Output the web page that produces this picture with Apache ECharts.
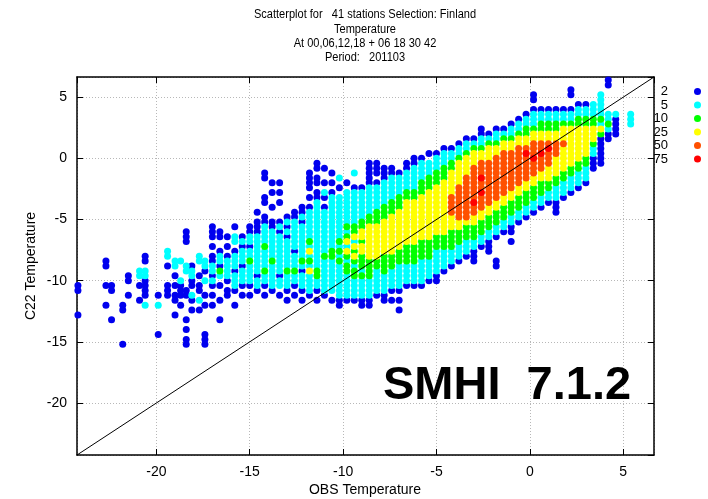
<!DOCTYPE html>
<html>
<head>
<meta charset="utf-8">
<script src="https://cdn.jsdelivr.net/npm/echarts@6/dist/echarts.min.js"></script>
<style>
html,body{margin:0;padding:0;background:#fff;}
#chart{width:708px;height:499px;}
</style>
</head>
<body>
<div id="chart"></div>
<script>
// Axis range (same for OBS and C22, diagonal is y = x)
const axisMin = -24.25;
const axisMax = 6.65;

// Title lines
const titleLines = [
  'Scatterplot for   41 stations Selection: Finland',
  'Temperature',
  'At 00,06,12,18 + 06 18 30 42',
  'Period:   201103'
];
const xAxisTitle = 'OBS Temperature';
const yAxisTitle = 'C22 Temperature';
const stampText = 'SMHI  7.1.2';

// Density classes (legend labels)
const classLabels = ['2', '5', '10', '25', '50', '75'];
const classColors = ['#0000ee', '#00ffff', '#00ff00', '#ffff00', '#ff5000', '#ff0000'];

// Points, stored per column: [obsX, c22Y, c22Y, ...]
const blueCols = [
  [-24.2, -10.4, -10.8, -12.8],
  [-22.7, -8.4, -8.8, -10.4, -12.0],
  [-22.4, -10.4, -10.8, -13.2],
  [-21.8, -12.0, -12.4, -15.2],
  [-21.5, -9.6, -10.0, -11.2],
  [-20.9, -10.4, -11.6],
  [-20.6, -8.0, -8.4, -10.0, -10.4, -10.8, -11.2],
  [-19.9, -11.2, -14.4],
  [-19.4, -8.8, -10.4, -10.8, -11.2],
  [-19.0, -9.6, -10.4, -11.2, -11.6, -12.8],
  [-18.7, -10.4, -10.8, -11.2, -12.0],
  [-18.4, -6.0, -6.4, -6.8, -10.8, -11.2, -13.2, -14.0, -14.8, -15.2],
  [-18.1, -8.8, -10.0, -10.4, -11.6, -12.4],
  [-17.7, -9.6, -10.4, -10.8, -12.4],
  [-17.4, -9.2, -11.2, -12.0, -14.4, -14.8, -15.2],
  [-17.0, -5.6, -6.0, -6.4, -7.2, -8.0, -8.4, -9.6, -10.4, -11.2, -12.0],
  [-16.6, -6.0, -6.4, -7.6, -8.8, -10.4, -11.6, -13.2],
  [-16.2, -6.4, -7.2, -8.0, -10.0, -10.8, -11.2],
  [-15.8, -5.6, -7.6, -9.2, -10.8, -12.0],
  [-15.4, -6.4, -7.2, -8.8, -10.4, -11.2],
  [-15.0, -5.6, -6.0, -7.2, -10.4, -11.2],
  [-14.6, -4.4, -5.2, -5.6, -6.0, -9.6, -10.8],
  [-14.2, -1.2, -1.6, -3.2, -3.6, -4.8, -5.2, -10.4, -11.2],
  [-13.8, -2.0, -2.8, -4.0, -5.2, -5.6, -10.8],
  [-13.4, -2.0, -2.8, -3.6, -5.2, -6.0, -9.6, -11.2],
  [-13.0, -4.8, -5.6, -6.4, -10.8, -11.6],
  [-12.6, -4.4, -4.8, -7.6, -10.4, -11.2],
  [-12.2, -4.0, -4.4, -5.2, -9.2, -10.8, -11.6],
  [-11.8, -1.2, -1.6, -2.0, -2.4, -3.2, -4.0, -11.2],
  [-11.4, -0.4, -0.8, -1.6, -2.0, -2.8, -3.2, -10.8, -11.6],
  [-11.0, -0.8, -2.0, -3.2, -4.0, -11.2],
  [-10.6, -1.2, -2.0, -2.8, -11.6],
  [-10.2, -2.4, -11.6, -12.0],
  [-9.8, -2.0, -11.6],
  [-9.4, -2.4, -11.6],
  [-9.0, -2.4, -11.6, -12.0],
  [-8.6, -0.4, -0.8, -1.2, -1.6, -2.0, -11.6, -12.0],
  [-8.2, -0.4, -0.8, -1.2, -2.0, -11.2],
  [-7.8, -0.8, -1.2, -1.6, -11.2, -11.6],
  [-7.4, -0.8, -1.2, -10.8, -11.6],
  [-7.0, -1.2, -10.8, -11.6, -12.4],
  [-6.6, -0.4, -0.8, -10.4],
  [-6.2, 0.0, -0.4, -10.4],
  [-5.8, 0.0, -10.4],
  [-5.4, 0.4, -10.0],
  [-5.0, 0.4, -9.6, -10.0],
  [-4.6, 0.8, -9.2],
  [-4.2, 0.8, -8.8],
  [-3.8, 1.2, -8.4],
  [-3.4, 1.6, -8.0],
  [-3.0, 1.6, -7.6, -8.0, -8.4],
  [-2.6, 2.0, 2.4, -7.2],
  [-2.2, 2.0, -6.8, -7.2, -7.6],
  [-1.8, 2.4, -6.4, -8.4, -8.8],
  [-1.4, 2.4, -6.0],
  [-1.0, 2.8, -5.6, -6.0, -6.8],
  [-0.6, 3.2, -5.2],
  [-0.2, 3.6, -4.8],
  [0.2, 4.0, 4.8, 5.2, -4.4],
  [0.6, 4.0, -4.0],
  [1.0, 4.0, -3.6],
  [1.4, 4.0, -3.6, -4.0, -4.4],
  [1.8, 4.0, -3.2],
  [2.2, 4.0, 5.2, 5.6, -2.8],
  [2.6, 4.4, -2.4],
  [3.0, 4.4, -2.0],
  [3.4, 0.0, -0.4, -0.8],
  [3.8, 1.6, 1.2, 0.8, 0.4, 0.0, -0.4],
  [4.2, 6.4, 6.0, 2.0, 1.6],
  [4.6, 3.2, 2.8, 2.4, 2.0]
];

const cyanCols = [
  [-20.9, -9.2, -9.6],
  [-20.6, -9.2, -9.6, -12.0],
  [-19.9, -12.0],
  [-19.4, -7.6, -8.0],
  [-19.0, -8.4, -8.8],
  [-18.7, -8.4, -10.0],
  [-18.4, -8.8, -9.2],
  [-18.1, -9.2, -9.6, -11.2],
  [-17.7, -8.0, -8.4, -11.6],
  [-17.4, -8.4, -8.8, -10.0],
  [-17.0, -8.8, -9.2, -10.0],
  [-16.6, -8.0, -8.4, -9.6],
  [-16.2, -8.4, -8.8, -9.2, -9.6],
  [-15.8, -6.4, -6.8, -8.0, -8.4, -8.8, -9.6, -10.0, -10.4],
  [-15.4, -6.8, -7.6, -8.0, -8.4, -9.2, -9.6, -10.0],
  [-15.0, -6.4, -6.8, -7.6, -8.0, -8.8, -9.2, -9.6, -10.0],
  [-14.6, -6.4, -6.8, -7.2, -7.6, -8.0, -8.4, -8.8, -9.2, -10.0, -10.4],
  [-14.2, -5.6, -6.0, -6.4, -6.8, -7.6, -8.0, -8.4, -8.8, -9.6, -10.0],
  [-13.8, -6.0, -6.4, -6.8, -7.2, -7.6, -8.0, -8.8, -9.2, -9.6, -10.0, -10.4],
  [-13.4, -5.6, -6.4, -6.8, -7.2, -7.6, -8.0, -8.4, -8.8, -9.2, -10.0, -10.4],
  [-13.0, -5.2, -6.0, -6.8, -7.2, -7.6, -8.0, -8.4, -8.8, -9.6, -10.0, -10.4],
  [-12.6, -5.2, -5.6, -6.0, -6.4, -6.8, -7.2, -8.0, -8.4, -8.8, -9.6, -10.0],
  [-12.2, -4.8, -5.6, -6.0, -6.4, -6.8, -7.2, -7.6, -8.0, -8.8, -9.6, -10.0, -10.4],
  [-11.8, -4.4, -4.8, -5.2, -5.6, -6.0, -6.4, -7.2, -8.0, -8.8, -9.6, -10.0, -10.4, -10.8],
  [-11.4, -3.6, -4.0, -4.4, -4.8, -5.2, -5.6, -6.0, -6.4, -6.8, -7.2, -7.6, -8.0, -8.4, -8.8, -10.0, -10.4],
  [-11.0, -2.8, -4.4, -4.8, -5.2, -5.6, -6.0, -6.4, -6.8, -7.2, -7.6, -8.4, -8.8, -9.2, -9.6, -10.0, -10.4, -10.8],
  [-10.6, -3.2, -3.6, -4.0, -4.4, -4.8, -5.2, -5.6, -6.0, -6.4, -6.8, -7.2, -8.4, -8.8, -9.2, -9.6, -10.0, -10.4, -10.8],
  [-10.2, -1.6, -3.2, -3.6, -4.0, -4.4, -4.8, -5.2, -5.6, -6.0, -6.4, -7.2, -8.0, -8.8, -9.2, -9.6, -10.0, -10.4, -10.8, -11.2],
  [-9.8, -2.8, -3.2, -3.6, -4.0, -4.4, -4.8, -5.2, -6.0, -7.2, -8.4, -9.6, -10.0, -10.4, -10.8, -11.2],
  [-9.4, -1.2, -2.8, -3.2, -3.6, -4.0, -4.4, -4.8, -5.2, -6.8, -8.8, -10.0, -10.4, -10.8, -11.2],
  [-9.0, -2.8, -3.2, -3.6, -4.0, -4.4, -4.8, -9.2, -10.0, -10.4, -10.8, -11.2],
  [-8.6, -2.4, -2.8, -3.2, -3.6, -4.0, -4.4, -10.0, -10.4, -10.8, -11.2],
  [-8.2, -2.4, -2.8, -3.2, -3.6, -4.0, -9.2, -9.6, -10.0, -10.4, -10.8],
  [-7.8, -2.0, -2.4, -2.8, -3.2, -3.6, -9.6, -10.0, -10.4, -10.8],
  [-7.4, -1.6, -2.0, -2.4, -2.8, -3.2, -9.2, -9.6, -10.0, -10.4],
  [-7.0, -1.6, -2.0, -2.4, -2.8, -8.8, -9.2, -9.6, -10.0, -10.4],
  [-6.6, -1.2, -1.6, -2.0, -2.4, -8.8, -9.2, -9.6, -10.0],
  [-6.2, -0.8, -1.2, -1.6, -2.0, -2.4, -8.8, -9.2, -9.6, -10.0],
  [-5.8, -0.4, -0.8, -1.2, -1.6, -8.4, -8.8, -9.2, -9.6, -10.0],
  [-5.4, -0.4, -0.8, -1.2, -8.4, -8.8, -9.2, -9.6],
  [-5.0, 0.0, -0.4, -0.8, -7.6, -8.0, -8.4, -8.8, -9.2],
  [-4.6, 0.4, 0.0, -0.4, -7.6, -8.0, -8.4, -8.8],
  [-4.2, 0.4, 0.0, -7.6, -8.0, -8.4],
  [-3.8, 0.8, 0.4, -7.2, -7.6, -8.0],
  [-3.4, 1.2, 0.8, -6.8, -7.2, -7.6],
  [-3.0, 1.2, -6.8, -7.2],
  [-2.6, 1.6, 1.2, -6.4, -6.8],
  [-2.2, 1.6, -6.0, -6.4],
  [-1.8, 2.0, 1.6, -5.6, -6.0],
  [-1.4, 2.0, -5.2, -5.6],
  [-1.0, 2.4, 2.0, -4.8, -5.2],
  [-0.6, 2.8, 2.4, -4.4, -4.8],
  [-0.2, 3.2, 2.8, -4.0, -4.4],
  [0.2, 3.6, 3.2, 2.8, -3.6, -4.0],
  [0.6, 3.6, 3.2, -3.2, -3.6],
  [1.0, 3.6, 3.2, -2.8, -3.2],
  [1.4, 3.6, 3.2, -2.4, -2.8, -3.2],
  [1.8, 3.6, 3.2, -2.0, -2.4, -2.8],
  [2.2, 3.6, 3.2, -1.6, -2.0, -2.4],
  [2.6, 4.0, 3.6, -1.2, -1.6, -2.0],
  [3.0, 4.0, 3.6, -0.8, -1.2, -1.6],
  [3.4, 4.4, 4.0, 3.6, 0.8, 0.4],
  [3.8, 5.2, 4.8, 4.4, 4.0, 3.6, 2.8],
  [4.2, 3.6, 3.2, 2.4],
  [4.6, 3.6],
  [5.4, 3.6, 3.2, 2.8]
];

const greenCols = [
  [-16.6, -9.2],
  [-15.0, -8.4],
  [-14.2, -7.2, -9.2],
  [-13.8, -8.4],
  [-13.0, -9.2],
  [-12.6, -9.2],
  [-12.2, -8.4],
  [-11.8, -6.8, -8.4],
  [-11.4, -9.2, -9.6],
  [-11.0, -8.0],
  [-10.6, -7.6, -8.0],
  [-10.2, -6.8, -7.6, -8.4],
  [-9.8, -5.6, -6.4, -8.0, -8.8, -9.2],
  [-9.4, -5.6, -6.0, -7.6, -8.4, -9.2, -9.6],
  [-9.0, -5.2, -5.6, -6.8, -8.0, -8.4, -8.8, -9.6],
  [-8.6, -4.8, -5.2, -8.4, -8.8, -9.2, -9.6],
  [-8.2, -4.4, -4.8, -5.2, -8.4, -8.8],
  [-7.8, -4.0, -4.4, -4.8, -8.0, -8.4, -8.8, -9.2],
  [-7.4, -3.6, -4.0, -4.4, -8.0, -8.4, -8.8],
  [-7.0, -3.2, -3.6, -4.0, -7.6, -8.0, -8.4],
  [-6.6, -2.8, -3.2, -7.2, -7.6, -8.0, -8.4],
  [-6.2, -2.8, -3.2, -7.2, -7.6, -8.0, -8.4],
  [-5.8, -2.0, -2.4, -2.8, -6.8, -7.2, -7.6, -8.0],
  [-5.4, -1.6, -2.0, -2.4, -6.8, -7.2, -7.6, -8.0],
  [-5.0, -1.2, -1.6, -2.0, -6.4, -6.8, -7.2],
  [-4.6, -0.8, -1.2, -1.6, -6.4, -6.8, -7.2],
  [-4.2, -0.4, -0.8, -6.0, -6.4, -6.8, -7.2],
  [-3.8, 0.0, -6.0, -6.4, -6.8],
  [-3.4, 0.4, -5.6, -6.0, -6.4],
  [-3.0, 0.8, -5.6, -6.0, -6.4],
  [-2.6, 0.8, -5.2, -5.6, -6.0],
  [-2.2, 1.2, -4.8, -5.2, -5.6],
  [-1.8, 1.2, -4.4, -4.8, -5.2],
  [-1.4, 1.6, -4.0, -4.4, -4.8],
  [-1.0, 1.6, -3.6, -4.0, -4.4],
  [-0.6, 2.0, -3.2, -3.6, -4.0],
  [-0.2, 2.4, 2.0, -2.8, -3.2, -3.6],
  [0.2, 2.4, -2.4, -2.8, -3.2],
  [0.6, 2.8, 2.4, -2.0, -2.4, -2.8],
  [1.0, 2.8, 2.4, -2.0, -2.4],
  [1.4, 2.8, 2.4, -1.6, -2.0],
  [1.8, 2.8, -1.2, -1.6],
  [2.2, 2.8, -0.8, -1.2],
  [2.6, 3.2, 2.8, -0.4, -0.8],
  [3.0, 3.2, 2.8, 0.0, -0.4],
  [3.4, 3.2, 2.8, 1.2],
  [3.8, 3.2, 2.0],
  [4.2, 2.8]
];

const yellowCols = [
  [-11.8, -7.6, -9.2],
  [-9.8, -6.8, -7.6],
  [-9.4, -6.4, -7.2, -8.0],
  [-9.0, -6.0, -6.4, -7.2, -7.6],
  [-8.6, -5.6, -6.0, -6.4, -6.8, -7.2, -7.6, -8.0],
  [-8.2, -5.6, -6.0, -6.4, -6.8, -7.2, -7.6, -8.0],
  [-7.8, -5.2, -5.6, -6.0, -6.4, -6.8, -7.2, -7.6],
  [-7.4, -4.8, -5.2, -5.6, -6.0, -6.4, -6.8, -7.2, -7.6],
  [-7.0, -4.4, -4.8, -5.2, -5.6, -6.0, -6.4, -6.8, -7.2],
  [-6.6, -3.6, -4.0, -4.4, -4.8, -5.2, -5.6, -6.0, -6.4, -6.8],
  [-6.2, -3.6, -4.0, -4.4, -4.8, -5.2, -5.6, -6.0, -6.4, -6.8],
  [-5.8, -3.2, -3.6, -4.0, -4.4, -4.8, -5.2, -5.6, -6.0, -6.4],
  [-5.4, -2.8, -3.2, -3.6, -4.0, -4.4, -4.8, -5.2, -5.6, -6.0, -6.4],
  [-5.0, -2.4, -2.8, -3.2, -3.6, -4.0, -4.4, -4.8, -5.2, -5.6, -6.0],
  [-4.6, -2.0, -2.4, -2.8, -3.2, -3.6, -4.0, -4.4, -4.8, -5.2, -5.6, -6.0],
  [-4.2, -1.2, -1.6, -2.0, -2.4, -2.8, -4.8, -5.2, -5.6],
  [-3.8, -0.4, -0.8, -1.2, -1.6, -2.0, -5.2, -5.6],
  [-3.4, 0.0, -0.4, -0.8, -1.2, -5.2],
  [-3.0, 0.4, 0.0, -0.4, -4.8, -5.2],
  [-2.6, 0.4, 0.0, -4.4, -4.8],
  [-2.2, 0.8, 0.4, 0.0, -4.0, -4.4],
  [-1.8, 0.8, 0.4, -3.6, -4.0],
  [-1.4, 1.2, 0.8, -3.2, -3.6],
  [-1.0, 1.2, 0.8, -2.8, -3.2],
  [-0.6, 1.6, 1.2, -2.4, -2.8],
  [-0.2, 1.6, 1.2, -2.0, -2.4],
  [0.2, 2.0, 1.6, -1.6, -2.0],
  [0.6, 2.0, 1.6, -1.2, -1.6],
  [1.0, 2.0, 1.6, -0.8, -1.2, -1.6],
  [1.4, 2.0, 1.6, 0.0, -0.4, -0.8, -1.2],
  [1.8, 2.4, 2.0, 1.6, 0.8, 0.4, 0.0, -0.4, -0.8],
  [2.2, 2.4, 2.0, 1.6, 1.2, 0.8, 0.4, 0.0, -0.4],
  [2.6, 2.4, 2.0, 1.6, 1.2, 0.8, 0.4, 0.0],
  [3.0, 2.4, 2.0, 1.6, 1.2, 0.8, 0.4],
  [3.4, 2.4, 2.0, 1.6],
  [3.8, 2.4]
];

const orangeCols = [
  [-4.2, -3.2, -3.6, -4.0, -4.4],
  [-3.8, -2.4, -2.8, -3.2, -3.6, -4.0, -4.4, -4.8],
  [-3.4, -1.6, -2.0, -2.4, -2.8, -3.2, -3.6, -4.0, -4.4, -4.8],
  [-3.0, -0.8, -1.2, -1.6, -2.0, -2.4, -2.8, -3.2, -3.6, -4.0, -4.4],
  [-2.6, -0.4, -0.8, -1.2, -1.6, -2.0, -2.4, -2.8, -3.2, -3.6, -4.0],
  [-2.2, -0.4, -0.8, -1.2, -1.6, -2.0, -2.4, -2.8, -3.2, -3.6],
  [-1.8, 0.0, -0.4, -0.8, -1.2, -1.6, -2.0, -2.4, -2.8, -3.2],
  [-1.4, 0.4, 0.0, -0.4, -0.8, -1.2, -1.6, -2.0, -2.4, -2.8],
  [-1.0, 0.4, 0.0, -0.4, -0.8, -1.2, -1.6, -2.0, -2.4],
  [-0.6, 0.8, 0.4, 0.0, -0.4, -0.8, -1.2, -1.6, -2.0],
  [-0.2, 0.8, 0.4, 0.0, -0.4, -0.8, -1.2, -1.6],
  [0.2, 1.2, 0.8, 0.4, 0.0, -0.4, -0.8, -1.2],
  [0.6, 1.2, 0.8, 0.4, 0.0, -0.4, -0.8],
  [1.0, 1.2, 0.8, 0.4, 0.0, -0.4],
  [1.4, 1.2, 0.8, 0.4],
  [1.8, 1.2]
];

const redCols = [
  [-3.0, -3.6],
  [-2.6, -1.6, -2.8],
  [-0.2, 0.4],
  [0.2, 0.0],
  [0.6, 0.4],
  [1.0, 0.8]
];

// y = x reference line
const diagonal = [[axisMin, axisMin], [axisMax, axisMax]];

function columnsToPoints(cols) {
  const pts = [];
  cols.forEach(function (c) {
    for (let i = 1; i < c.length; i++) pts.push([c[0], c[i]]);
  });
  return pts;
}

const classCols = [blueCols, cyanCols, greenCols, yellowCols, orangeCols, redCols];

const chart = echarts.init(document.getElementById('chart'), null, { renderer: 'canvas' });

const axisFont = 'Liberation Sans, Arial, sans-serif';

function valueAxis(pos, showLabels, showSplit) {
  return {
    type: 'value',
    position: pos,
    min: axisMin,
    max: axisMax,
    axisLine: { show: true, onZero: false, lineStyle: { color: '#000', width: 1.5 } },
    axisTick: { show: true, inside: true, length: 6, lineStyle: { color: '#000', width: 1 } },
    axisLabel: {
      show: showLabels, color: '#000', fontSize: 14, fontFamily: axisFont, margin: 10,
      showMinLabel: false, showMaxLabel: false
    },
    splitLine: { show: showSplit, lineStyle: { color: '#b8b8b8', type: [1, 2], width: 1 } }
  };
}

const series = classCols.map(function (cols, i) {
  return {
    name: classLabels[i],
    type: 'scatter',
    xAxisIndex: 0,
    yAxisIndex: 0,
    symbol: 'circle',
    symbolSize: 7,
    itemStyle: { color: classColors[i], opacity: 1 },
    data: columnsToPoints(cols),
    silent: true
  };
});
series.push({
  type: 'line',
  xAxisIndex: 0,
  yAxisIndex: 0,
  data: diagonal,
  symbol: 'none',
  lineStyle: { color: '#000', width: 1 },
  silent: true
});

const graphics = [];
titleLines.forEach(function (t, i) {
  graphics.push({
    type: 'text', x: 365, y: 15 + i * 14.3, scaleX: 0.92,
    style: { text: t, fill: '#000', font: '12px ' + axisFont, align: 'center', verticalAlign: 'middle', textAlign: 'center', textVerticalAlign: 'middle' }
  });
});
graphics.push({
  type: 'text', x: 365, y: 490,
  style: { text: xAxisTitle, fill: '#000', font: '14px ' + axisFont, align: 'center', verticalAlign: 'middle', textAlign: 'center', textVerticalAlign: 'middle' }
});
graphics.push({
  type: 'text', x: 31, y: 266, rotation: Math.PI / 2,
  style: { text: yAxisTitle, fill: '#000', font: '14px ' + axisFont, align: 'center', verticalAlign: 'middle', textAlign: 'center', textVerticalAlign: 'middle' }
});
graphics.push({
  type: 'text', x: 383, y: 386, z: 100,
  style: { text: stampText, fill: '#000', font: 'bold 47px ' + axisFont, align: 'left', verticalAlign: 'middle', textAlign: 'left', textVerticalAlign: 'middle' }
});
classLabels.forEach(function (lab, i) {
  const cy = 91.5 + i * 13.5;
  graphics.push({
    type: 'text', x: 668, y: cy,
    style: { text: lab, fill: '#000', font: '13px ' + axisFont, align: 'right', verticalAlign: 'middle', textAlign: 'right', textVerticalAlign: 'middle' }
  });
  graphics.push({
    type: 'circle', shape: { cx: 697.5, cy: cy, r: 3.5 },
    style: { fill: classColors[i] }
  });
});

chart.setOption({
  animation: false,
  backgroundColor: '#fff',
  grid: { left: 77, right: 54, top: 77, bottom: 44, containLabel: false },
  xAxis: [valueAxis('bottom', true, true), valueAxis('top', false, false)],
  yAxis: [valueAxis('left', true, true), valueAxis('right', false, false)],
  series: series,
  graphic: graphics
});
</script>
</body>
</html>
